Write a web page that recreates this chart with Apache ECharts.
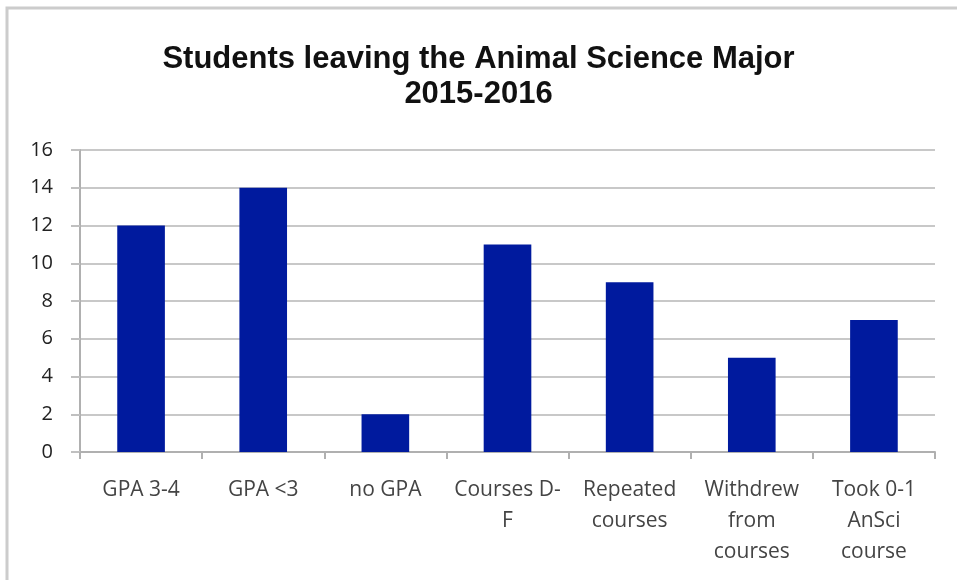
<!DOCTYPE html>
<html>
<head>
<meta charset="utf-8">
<script src="https://cdn.jsdelivr.net/npm/echarts@6/dist/echarts.min.js"></script>
<style>html,body{margin:0;padding:0;background:#fff;}#c{width:957px;height:580px;}</style>
</head>
<body>
<div id="c"></div>
<script>
const titleText = 'Students leaving the Animal Science Major\n2015-2016';
const categories = ['GPA 3-4', 'GPA <3', 'no GPA', 'Courses D-\nF', 'Repeated\ncourses', 'Withdrew\nfrom\ncourses', 'Took 0-1\nAnSci\ncourse'];
const values = [12, 14, 2, 11, 9, 5, 7];
const yTicks = {min: 0, max: 16, interval: 2};

const chart = echarts.init(document.getElementById('c'), null, {renderer: 'canvas'});
chart.setOption({
  animation: false,
  backgroundColor: '#fff',
  graphic: [{
    type: 'rect', z: -1,
    shape: {x: 7, y: 8, width: 1000, height: 1000},
    style: {fill: 'none', stroke: '#cccccc', lineWidth: 3}
  }],
  title: {
    text: titleText,
    left: 'center', top: 37,
    textStyle: {fontFamily: 'Liberation Sans', fontWeight: 'bold', fontSize: 31, color: '#111', lineHeight: 35}
  },
  grid: {left: 80, right: 22, top: 150, bottom: 128, containLabel: false},
  xAxis: {
    type: 'category', data: categories,
    axisLine: {lineStyle: {color: '#b0b0b0', width: 2}},
    axisTick: {show: true, length: 7, lineStyle: {color: '#b0b0b0', width: 2}},
    axisLabel: {interval: 0, margin: 23, fontFamily: 'Open Sans', fontSize: 21, color: '#444', lineHeight: 31}
  },
  yAxis: {
    type: 'value', min: yTicks.min, max: yTicks.max, interval: yTicks.interval,
    axisLine: {show: true, lineStyle: {color: '#b0b0b0', width: 2}},
    axisTick: {show: true, length: 9, lineStyle: {color: '#c0c0c0', width: 2}},
    axisLabel: {margin: 27, fontFamily: 'Open Sans', fontSize: 20, color: '#222'},
    splitLine: {lineStyle: {color: '#c8c8c8', width: 2}}
  },
  series: [{
    type: 'bar', data: values, barWidth: '39%',
    itemStyle: {color: '#001a9e'}
  }]
});
</script>
</body>
</html>
